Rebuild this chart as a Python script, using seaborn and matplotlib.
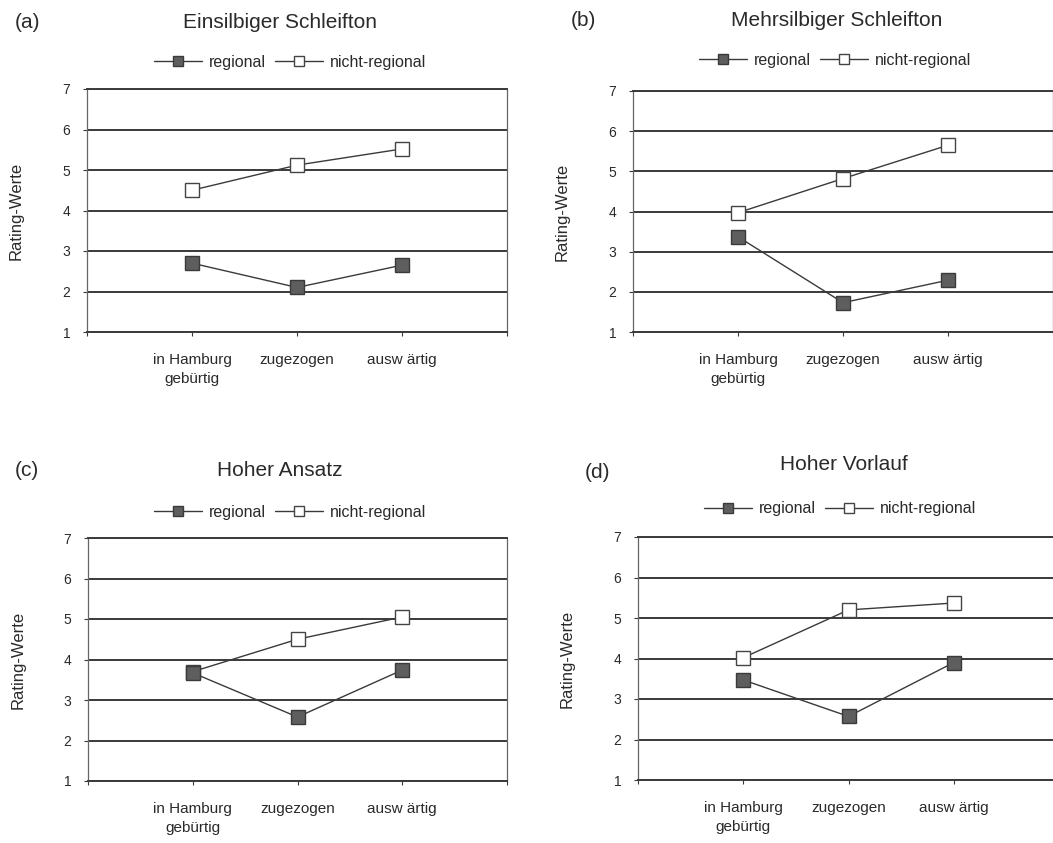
"""Rating-Werte für vier Intonationsmuster, nach Herkunft der Hörer."""

import pandas as pd
import matplotlib
matplotlib.use("Agg")
import matplotlib.pyplot as plt
from matplotlib.lines import Line2D
import seaborn as sns

# Daten
categories = ["in Hamburg\ngebürtig", "zugezogen", "ausw ärtig"]
panel_letters = ["(a)", "(b)", "(c)", "(d)"]
panel_titles = ["Einsilbiger Schleifton", "Mehrsilbiger Schleifton",
                "Hoher Ansatz", "Hoher Vorlauf"]

regional_a = [2.7, 2.1, 2.65]
nicht_regional_a = [4.5, 5.12, 5.52]
regional_b = [3.37, 1.73, 2.29]
nicht_regional_b = [3.97, 4.82, 5.65]
regional_c = [3.67, 2.58, 3.74]
nicht_regional_c = [3.7, 4.5, 5.05]
regional_d = [3.47, 2.57, 3.9]
nicht_regional_d = [4.02, 5.2, 5.37]

y_ticks = [1, 2, 3, 4, 5, 6, 7]

sns.set_theme(style="white")
plt.rcParams["font.family"] = ["Liberation Sans", "DejaVu Sans"]

TEXT = "#2a2a2a"
LINE = "#3a3a3a"
GRID = "#3a3a3a"

W, H = 1053, 843
fig = plt.figure(figsize=(W / 100, H / 100), dpi=100)


def fx(px):
    return px / W


def fy(py):
    return 1 - py / H


# Achsenpositionen in Pixeln: links, oben, rechts, unten
boxes = [(87, 89, 507, 332), (633, 91, 1053, 332),
         (88, 538, 507, 781), (638, 537, 1059, 780)]
title_pos = [(280, 22), (837, 20), (280, 470), (844, 465)]
letter_pos = [(28, 22), (583, 20), (27, 470), (597, 473)]
legend_pos = [(290, 62), (835, 60), (290, 512), (840, 509)]

series = [(regional_a, nicht_regional_a), (regional_b, nicht_regional_b),
          (regional_c, nicht_regional_c), (regional_d, nicht_regional_d)]

reg_style = dict(marker="s", markersize=10, markerfacecolor="#5e5e5e",
                 markeredgecolor="#3a3a3a", markeredgewidth=1.0)
nreg_style = dict(marker="s", markersize=10, markerfacecolor="white",
                  markeredgecolor="#444444", markeredgewidth=1.0)

for i, (reg, nreg) in enumerate(series):
    l, t, r, b = boxes[i]
    ax = fig.add_axes([fx(l), fy(b), fx(r - l), fy(t) - fy(b)])

    df = pd.DataFrame({
        "Herkunft": categories * 2,
        "Wert": list(nreg) + list(reg),
        "Gruppe": ["nicht-regional"] * 3 + ["regional"] * 3,
    })
    sns.lineplot(data=df[df["Gruppe"] == "nicht-regional"], x="Herkunft",
                 y="Wert", ax=ax, color=LINE, linewidth=1.0, zorder=4,
                 **nreg_style)
    sns.lineplot(data=df[df["Gruppe"] == "regional"], x="Herkunft",
                 y="Wert", ax=ax, color=LINE, linewidth=1.0, zorder=5,
                 **reg_style)

    ax.set_xlim(-1, 3)
    ax.set_ylim(1, 7)
    ax.set_yticks(y_ticks)
    ax.set_xticks(range(len(categories)))
    ax.set_xticklabels(categories, fontsize=11, color=TEXT,
                       linespacing=1.5)
    ax.set_xticks([-1, 3], minor=True)
    ax.tick_params(axis="x", which="both", direction="out", length=3,
                   width=0.8, color=GRID, pad=12, bottom=True)
    ax.tick_params(axis="y", direction="out", length=3, width=0.8,
                   color=GRID, pad=9, left=True, labelsize=10,
                   labelcolor=TEXT)
    ax.grid(axis="y", color=GRID, linewidth=1.4)
    ax.grid(axis="x", visible=False)

    for side in ("top", "bottom"):
        ax.spines[side].set_color(GRID)
        ax.spines[side].set_linewidth(1.4)
    for side in ("left", "right"):
        ax.spines[side].set_color("#666666")
        ax.spines[side].set_linewidth(0.9)
        ax.spines[side].set_linestyle((0, (1.5, 1.0)))

    ax.set_xlabel("")
    ax.set_ylabel("Rating-Werte", fontsize=12, color=TEXT)
    ax.yaxis.set_label_coords(-0.15, 0.5)
    if ax.get_legend() is not None:
        ax.get_legend().remove()

    tx, ty = title_pos[i]
    fig.text(fx(tx), fy(ty), panel_titles[i], ha="center", va="center",
             fontsize=15, color=TEXT)
    lx, ly = letter_pos[i]
    fig.text(fx(lx), fy(ly), panel_letters[i], ha="center", va="center",
             fontsize=15, color=TEXT)

    handles = [Line2D([], [], color=LINE, linewidth=1.0, **reg_style),
               Line2D([], [], color=LINE, linewidth=1.0, **nreg_style)]
    gx, gy = legend_pos[i]
    fig.legend(handles, ["regional", "nicht-regional"], loc="center",
               bbox_to_anchor=(fx(gx), fy(gy)), ncol=2, frameon=False,
               fontsize=11.5, handlelength=3.0, handletextpad=0.4,
               columnspacing=0.6, labelcolor=TEXT, markerscale=0.75)

fig.savefig("out.png", dpi=100, facecolor="white")
